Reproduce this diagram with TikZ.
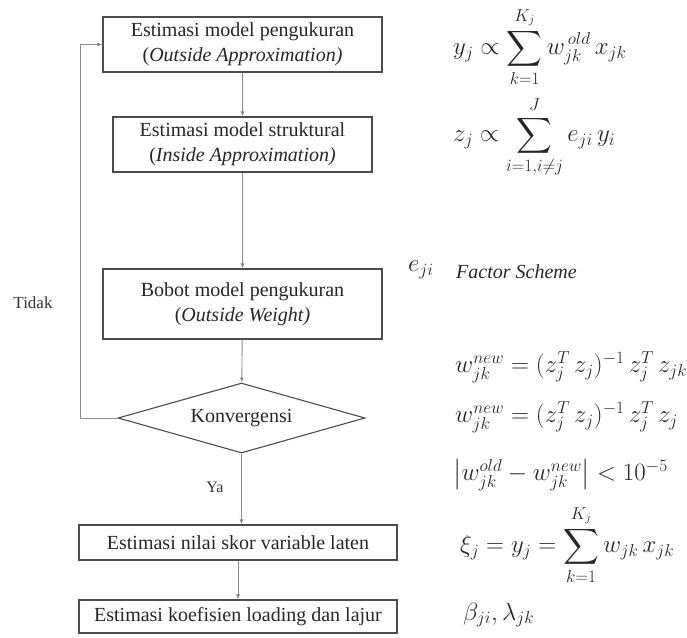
\documentclass[tikz,border=0pt]{standalone}
\usepackage{amsmath}
\usepackage{fontspec}
\setmainfont{Liberation Serif}
\usetikzlibrary{shapes.geometric,arrows.meta}
\tikzset{
  box/.style={draw=black!70, line width=1.1pt, rectangle, inner sep=0pt, align=center, font=\fontsize{20}{25}\selectfont, text=black!85},
  dia/.style={draw=black!70, line width=1.1pt, diamond, aspect=3.5, inner sep=0pt, minimum width=247pt, minimum height=70pt, font=\fontsize{20}{24}\selectfont, text=black!85},
  flow/.style={draw=black!45, line width=0.9pt, -{Latex[length=5pt,width=4pt,fill=black]}},
  lbl/.style={font=\fontsize{17}{20}\selectfont, text=black!80},
  eq/.style={anchor=west, inner sep=0pt, font=\fontsize{24}{28}\selectfont, text=black!85}
}
\begin{document}
\begin{tikzpicture}[x=1pt,y=-1pt]
\useasboundingbox (0,0) rectangle (687,637);
% boxes
\node[box, minimum width=279pt, minimum height=55pt] (b1) at (242.5,44.5) {Estimasi model pengukuran\\(\textit{Outside Approximation)}};
\node[box, minimum width=259pt, minimum height=55pt] (b2) at (242.5,144.5) {Estimasi model struktural\\(\textit{Inside Approximation)}};
\node[box, minimum width=279pt, minimum height=70pt] (b3) at (242.5,304) {Bobot model pengukuran\\(\textit{Outside Weight)}};
\node[dia] (d) at (241.5,418) {Konvergensi};
\node[box, minimum width=318pt, minimum height=35pt] (b5) at (238,542.5) {Estimasi nilai skor variable laten};
\node[box, minimum width=318pt, minimum height=33pt] (b6) at (238,616.5) {Estimasi koefisien loading dan lajur};
% connectors
\draw[flow] (b1) -- (b2);
\draw[flow] (b2) -- (b3);
\draw[flow] (b3) -- (d);
\draw[flow] (d.south) -- (d.south |- b5.north);
\draw[flow] (b5.south) -- (b5.south |- b6.north);
\coordinate (c1) at (80,418);
\coordinate (c2) at (80,44.5);
\draw[flow] (d.west) -- (c1) -- (c2) -- (b1.west);
% labels
\node[lbl] (tidak) at (33,303) {Tidak};
\node[lbl, font=\fontsize{16}{19}\selectfont] (ya) at (215,487) {Ya};
% equations
\node[eq] (e1) at (453,47) {$\displaystyle y_j \propto \sum_{k=1}^{K_j} w_{jk}^{\,old}\, x_{jk}$};
\node[eq] (e2) at (453,137) {$\displaystyle z_j \propto \sum_{i=1,i\neq j}^{J} e_{ji}\, y_i$};
\node[eq] (e3) at (408,270) {$e_{ji}$};
\node[eq, font=\fontsize{20}{24}\selectfont\itshape] (fs) at (456,272) {Factor Scheme};
\node[eq] (e4) at (455,367) {$w_{jk}^{new} = (z_j^T\, z_j)^{-1}\, z_j^T\, z_{jk}$};
\node[eq] (e5) at (455,417) {$w_{jk}^{new} = (z_j^T\, z_j)^{-1}\, z_j^T\, z_j$};
\node[eq] (e6) at (453,475) {$\bigl|w_{jk}^{old} - w_{jk}^{new}\bigr| < 10^{-5}$};
\node[eq] (e7) at (460,545) {$\displaystyle \xi_j = y_j = \sum_{k=1}^{K_j} w_{jk}\, x_{jk}$};
\node[eq] (e8) at (463,615) {$\beta_{ji}, \lambda_{jk}$};
\end{tikzpicture}
\end{document}
